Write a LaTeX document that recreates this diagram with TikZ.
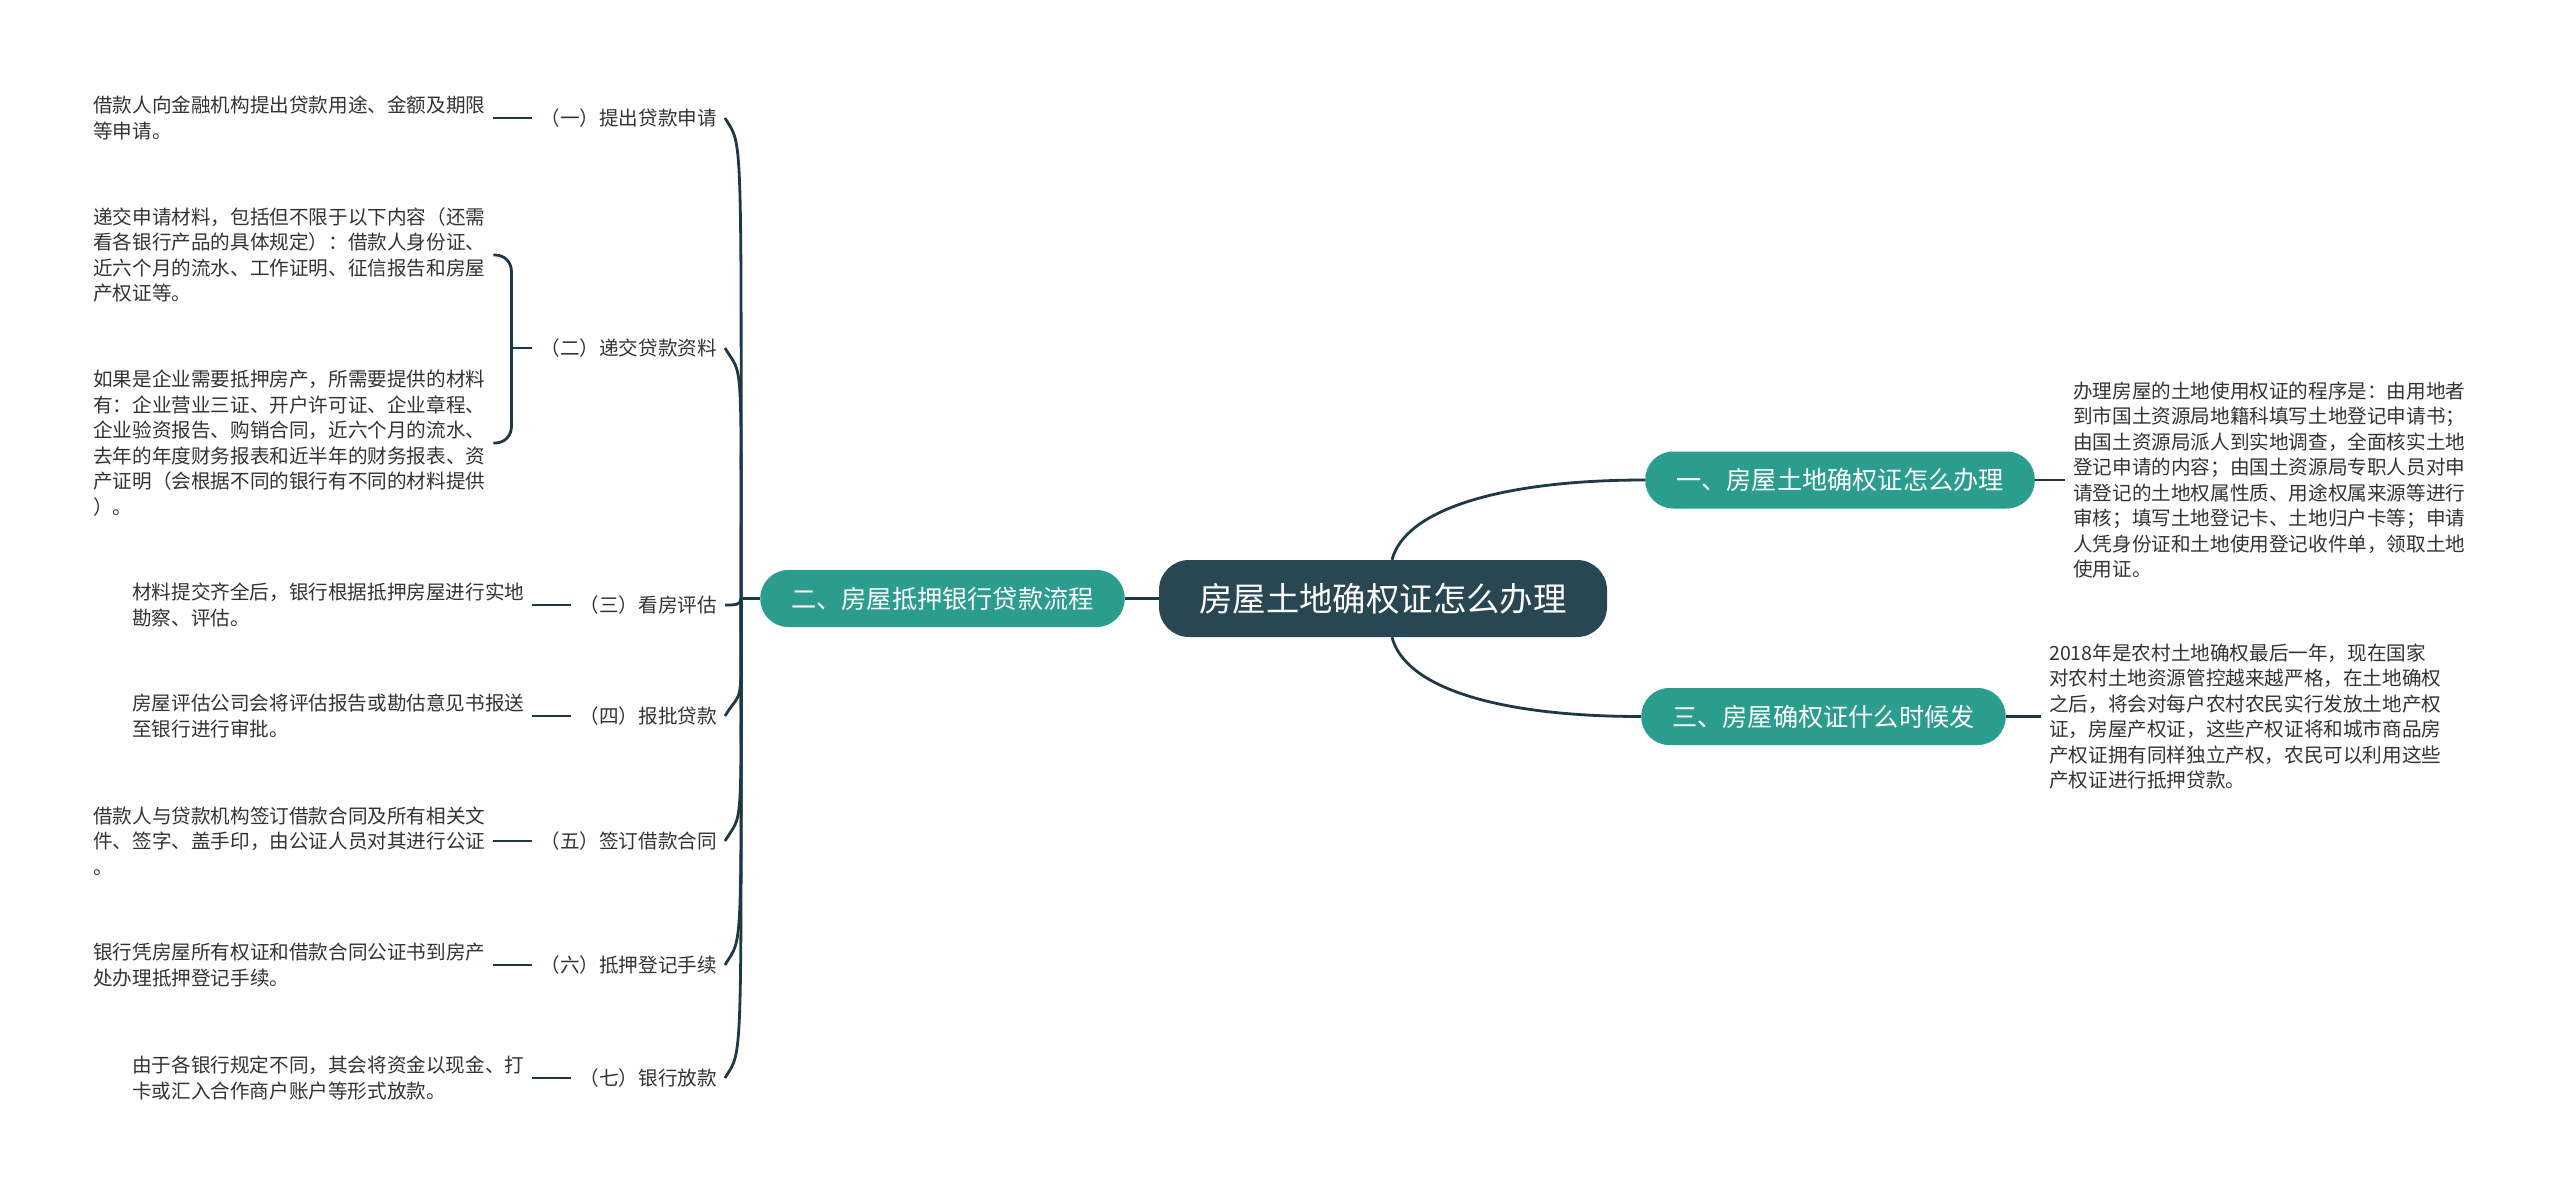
\documentclass[tikz,border=0pt]{standalone}
\usepackage{fontspec}
\setmainfont{Noto Sans CJK SC}
\usetikzlibrary{calc,backgrounds}
\definecolor{cdark}{HTML}{284753}
\definecolor{cteal}{HTML}{2A9D8F}
\definecolor{cline}{HTML}{1E3945}
\definecolor{ctext}{HTML}{333333}
\begin{document}
\begin{tikzpicture}[x=1pt,y=-1pt,
 root/.style={fill=cdark, text=white, rounded corners=30pt, minimum width=448pt, minimum height=77pt, inner sep=0pt, font=\fontsize{33.4pt}{40pt}\selectfont},
 mainbox/.style={fill=cteal, text=white, rounded corners=28pt, minimum height=57pt, inner xsep=31pt, inner ysep=0pt, font=\fontsize{25.2pt}{30pt}\selectfont},
 detail/.style={text=ctext, align=left, inner xsep=8pt, inner ysep=0pt, anchor=west, font=\fontsize{19.6pt}{25.5pt}\selectfont},
 lab/.style={text=ctext, inner xsep=8pt, inner ysep=0pt, anchor=east, font=\fontsize{19.6pt}{25.5pt}\selectfont},
 conn/.style={draw=cline, line width=2.8pt},
]
\useasboundingbox (0,0) rectangle (2560,1196);

% central and main branches
\node[root] (root) at (1383,598.5) {房屋土地确权证怎么办理};
\node[mainbox] (b2) at (942.5,598.5) {二、房屋抵押银行贷款流程};
\node[mainbox] (b1) at (1840,480) {一、房屋土地确权证怎么办理};
\node[mainbox] (b3) at (1823.5,716.5) {三、房屋确权证什么时候发};

% right details
\node[detail] (r1) at (2065,480) {办理房屋的土地使用权证的程序是：由用地者\\到市国土资源局地籍科填写土地登记申请书；\\由国土资源局派人到实地调查，全面核实土地\\登记申请的内容；由国土资源局专职人员对申\\请登记的土地权属性质、用途权属来源等进行\\审核；填写土地登记卡、土地归户卡等；申请\\人凭身份证和土地使用登记收件单，领取土地\\使用证。};
\node[detail] (r2) at (2041,716.5) {2018年是农村土地确权最后一年，现在国家\\对农村土地资源管控越来越严格，在土地确权\\之后，将会对每户农村农民实行发放土地产权\\证，房屋产权证，这些产权证将和城市商品房\\产权证拥有同样独立产权，农民可以利用这些\\产权证进行抵押贷款。};

% left labels
\node[lab] (l1) at (725,118) {（一）提出贷款申请};
\node[lab] (l2) at (725,348) {（二）递交贷款资料};
\node[lab] (l3) at (725,605) {（三）看房评估};
\node[lab] (l4) at (725,716) {（四）报批贷款};
\node[lab] (l5) at (725,841) {（五）签订借款合同};
\node[lab] (l6) at (725,965) {（六）抵押登记手续};
\node[lab] (l7) at (725,1078) {（七）银行放款};

% left details
\node[detail] (t1) at (85,118) {借款人向金融机构提出贷款用途、金额及期限\\等申请。};
\node[detail] (t2a) at (85,255) {递交申请材料，包括但不限于以下内容（还需\\看各银行产品的具体规定）：借款人身份证、\\近六个月的流水、工作证明、征信报告和房屋\\产权证等。};
\node[detail] (t2b) at (85,443) {如果是企业需要抵押房产，所需要提供的材料\\有：企业营业三证、开户许可证、企业章程、\\企业验资报告、购销合同，近六个月的流水、\\去年的年度财务报表和近半年的财务报表、资\\产证明（会根据不同的银行有不同的材料提供\\）。};
\node[detail] (t3) at (124,605) {材料提交齐全后，银行根据抵押房屋进行实地\\勘察、评估。};
\node[detail] (t4) at (124,716) {房屋评估公司会将评估报告或勘估意见书报送\\至银行进行审批。};
\node[detail] (t5) at (85,841) {借款人与贷款机构签订借款合同及所有相关文\\件、签字、盖手印，由公证人员对其进行公证\\。};
\node[detail] (t6) at (85,965) {银行凭房屋所有权证和借款合同公证书到房产\\处办理抵押登记手续。};
\node[detail] (t7) at (124,1078) {由于各银行规定不同，其会将资金以现金、打\\卡或汇入合作商户账户等形式放款。};

\coordinate (jn) at ($(b2.west)+(-19,0)$);
\coordinate (bx) at ($(t2a.east)+(18,0)$);

\begin{scope}[on background layer]
\fill[white] (0,0) rectangle (2560,1196);
% central connections
\draw[conn] ($(root.north)+(9,0)$) .. controls +(13,-50) and +(-145,0) .. (b1.west);
\draw[conn] ($(root.south)+(9,0)$) .. controls +(13,50) and +(-145,0) .. (b3.west);
\draw[conn] (b2.east) -- (root.west);
\draw[conn] (b1.east) -- (r1.west);
\draw[conn] (b3.east) -- (r2.west);
% trunk
\draw[conn] (b2.west) -- (jn);
\draw[conn] (jn) .. controls (jn |- l1.east) and ($(l1.east)+(18,30)$) .. (l1.east);
\draw[conn] (jn) .. controls (jn |- l2.east) and ($(l2.east)+(18,30)$) .. (l2.east);
\draw[conn] (jn) .. controls (jn |- l3.east) and ($(l3.east)+(10,0)$) .. (l3.east);
\draw[conn] (jn) .. controls (jn |- l4.east) and ($(l4.east)+(18,-30)$) .. (l4.east);
\draw[conn] (jn) .. controls (jn |- l5.east) and ($(l5.east)+(18,-30)$) .. (l5.east);
\draw[conn] (jn) .. controls (jn |- l6.east) and ($(l6.east)+(18,-30)$) .. (l6.east);
\draw[conn] (jn) .. controls (jn |- l7.east) and ($(l7.east)+(18,-30)$) .. (l7.east);
% details to labels
\draw[conn] (t1.east) -- (l1.west);
\draw[conn, rounded corners=16pt] (t2a.east) -- (bx) -- (bx |- t2b.east) -- (t2b.east);
\draw[conn] (bx |- l2.west) -- (l2.west);
\draw[conn] (t3.east) -- (l3.west);
\draw[conn] (t4.east) -- (l4.west);
\draw[conn] (t5.east) -- (l5.west);
\draw[conn] (t6.east) -- (l6.west);
\draw[conn] (t7.east) -- (l7.west);
\end{scope}
\end{tikzpicture}
\end{document}
